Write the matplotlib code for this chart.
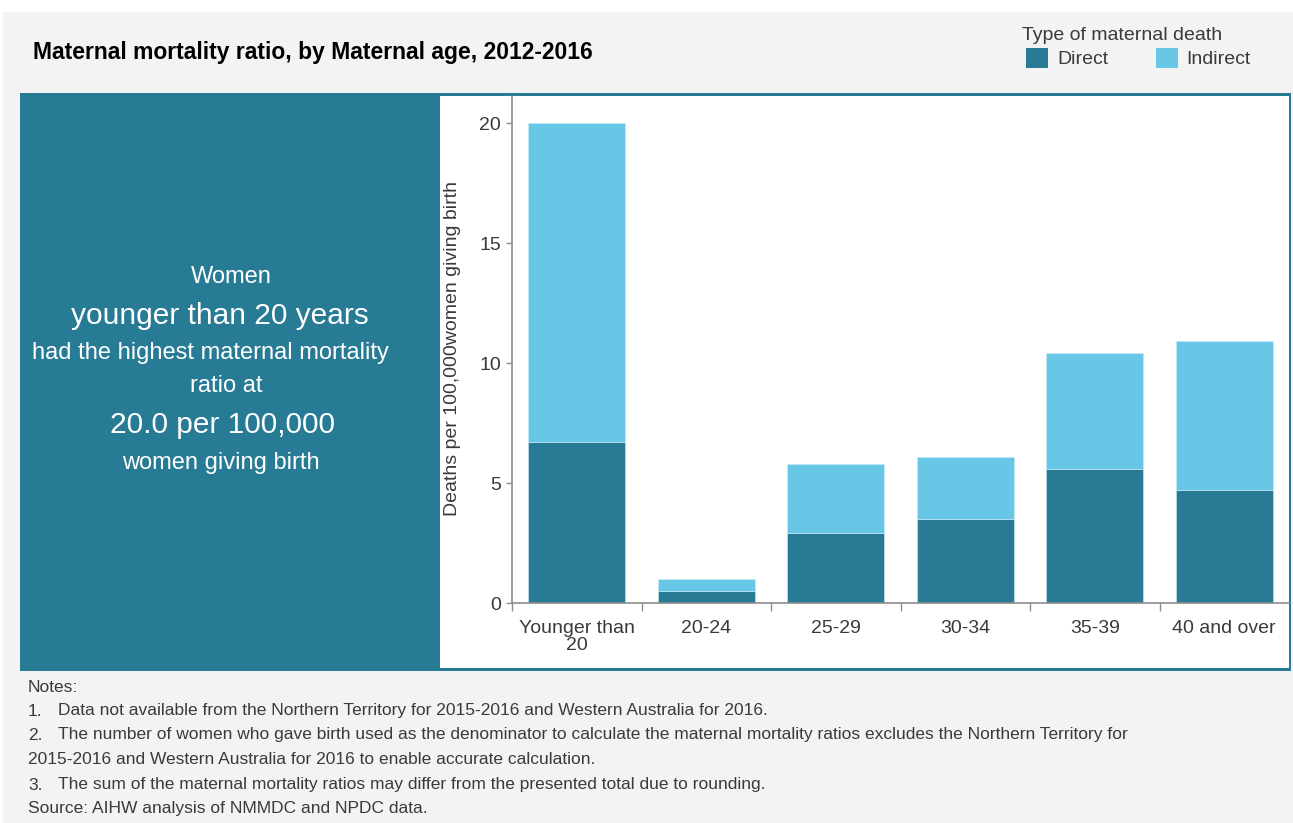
import matplotlib.pyplot as plt
from matplotlib.patches import Rectangle
from matplotlib import font_manager
import numpy as np

# data: maternal mortality ratio (deaths per 100,000 women giving birth)
age_groups = ["Younger than\n20", "20-24", "25-29", "30-34", "35-39", "40 and over"]
direct = [6.7, 0.5, 2.9, 3.5, 5.6, 4.7]
indirect = [13.3, 0.5, 2.9, 2.6, 4.8, 6.2]
y_ticks = [0, 5, 10, 15, 20]

notes = [
    ("", "Notes:"),
    ("1.", "Data not available from the Northern Territory for 2015-2016 and Western Australia for 2016."),
    ("2.", "The number of women who gave birth used as the denominator to calculate the maternal mortality ratios excludes the Northern Territory for"),
    ("", "2015-2016 and Western Australia for 2016 to enable accurate calculation."),
    ("3.", "The sum of the maternal mortality ratios may differ from the presented total due to rounding."),
    ("", "Source: AIHW analysis of NMMDC and NPDC data."),
]

# colours
DIRECT = "#297b95"
INDIRECT = "#68c6e6"
PANEL = "#287b94"
BG = "#f3f3f3"
TXT = "#3a3a3a"

installed = {f.name for f in font_manager.fontManager.ttflist}
NARROW = "Liberation Sans Narrow" if "Liberation Sans Narrow" in installed else "Liberation Sans"
plt.rcParams["font.family"] = ["Liberation Sans", "DejaVu Sans"]

W, H = 1293, 823
fig = plt.figure(figsize=(W / 100, H / 100), dpi=100)
fig.patch.set_facecolor("white")


def fx(px):
    return px / W


def fy(py):
    return 1 - py / H


def box(x0, y0, x1, y1, color, z):
    fig.add_artist(Rectangle((fx(x0), fy(y1)), fx(x1) - fx(x0), fy(y0) - fy(y1),
                             transform=fig.transFigure, facecolor=color,
                             edgecolor="none", zorder=z))


# grey card, teal frame / text panel, white plot area
box(3, 12, W, H, BG, -3)
box(20, 93, 1291, 671, PANEL, -2)
box(440, 96, 1289, 668, "white", -1)

# ---------------------------------------------------------
# bar chart
# ---------------------------------------------------------
ax = fig.add_axes([fx(512), fy(603), fx(1289) - fx(512), fy(96) - fy(603)])
ax.set_facecolor("none")

x = np.arange(len(age_groups))
ax.bar(x, direct, width=0.75, color=DIRECT, edgecolor="#cdebf5", linewidth=0.4)
ax.bar(x, indirect, width=0.75, bottom=direct, color=INDIRECT,
       edgecolor="#cdebf5", linewidth=0.4)

ax.set_xlim(-0.5, 5.5)
ax.set_ylim(0, 21.125)
ax.set_yticks(y_ticks)
ax.set_xticks(x)
ax.set_xticklabels(age_groups, fontsize=14, color=TXT, linespacing=1.05)
ax.set_xticks(np.arange(-0.5, 5, 1), minor=True)
ax.tick_params(axis="x", which="major", length=0, pad=12)
ax.tick_params(axis="x", which="minor", length=6, width=1, color="#8c8c8c")
ax.tick_params(axis="y", length=4, width=1, color="#8c8c8c", labelsize=14,
               labelcolor=TXT, pad=4)

for side in ["top", "right"]:
    ax.spines[side].set_visible(False)
for side in ["left", "bottom"]:
    ax.spines[side].set_color("#8c8c8c")
    ax.spines[side].set_linewidth(1.2)

fig.text(fx(452), fy(348), "Deaths per 100,000women giving birth", rotation=90,
         ha="center", va="center", fontsize=14, color=TXT)

# ---------------------------------------------------------
# headline panel
# ---------------------------------------------------------
top_age = age_groups[0].replace("\n", " ").lower()
top_total = direct[0] + indirect[0]
panel_lines = [
    ("Women", 277, 17, 231),
    (f"{top_age} years", 316, 21.5, 220),
    ("had the highest maternal mortality", 353, 17, 210),
    ("ratio at", 386, 17, 226),
    (f"{top_total:.1f} per 100,000", 425, 21.5, 223),
    ("women giving birth", 463, 17, 221),
]
for txt, py, size, px in panel_lines:
    fig.text(fx(px), fy(py), txt, ha="center", va="center", fontsize=size,
             color="white")

# ---------------------------------------------------------
# title and legend
# ---------------------------------------------------------
fig.text(fx(33), fy(53), "Maternal mortality ratio, by Maternal age, 2012-2016",
         ha="left", va="center", fontsize=16.5, fontweight="bold", color="black")

fig.text(fx(1022), fy(35), "Type of maternal death", ha="left", va="center",
         fontsize=14, color=TXT)
box(1026, 48, 1048, 68, DIRECT, 1)
fig.text(fx(1057), fy(60), "Direct", ha="left", va="center", fontsize=14, color=TXT)
box(1156, 48, 1178, 68, INDIRECT, 1)
fig.text(fx(1186), fy(60), "Indirect", ha="left", va="center", fontsize=14, color=TXT)

# ---------------------------------------------------------
# notes
# ---------------------------------------------------------
note_y = [687, 711, 735, 759, 785, 809]
for (num, txt), py in zip(notes, note_y):
    if num:
        fig.text(fx(28), fy(py), num, ha="left", va="center", fontsize=12.5,
                 family=NARROW, color=TXT)
        fig.text(fx(58), fy(py), txt, ha="left", va="center", fontsize=12.5,
                 family=NARROW, color=TXT)
    else:
        fig.text(fx(28), fy(py), txt, ha="left", va="center", fontsize=12.5,
                 family=NARROW, color=TXT)

fig.savefig("out.png", dpi=100, facecolor=fig.get_facecolor())
